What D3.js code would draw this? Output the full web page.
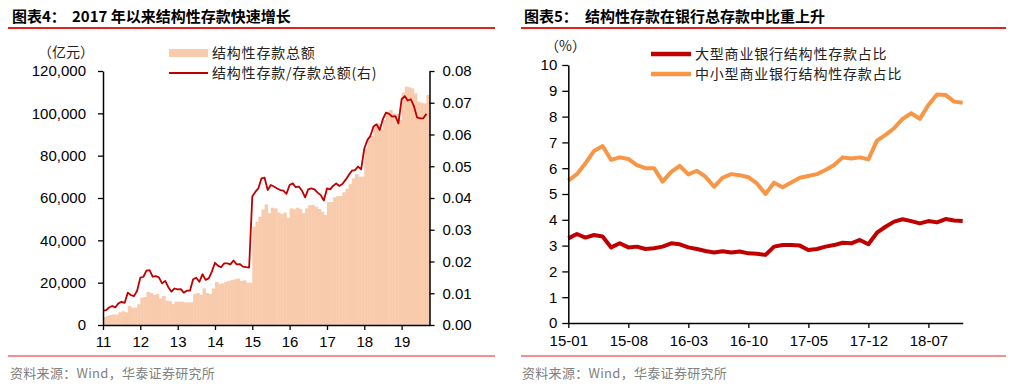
<!DOCTYPE html>
<html>
<head>
<meta charset="utf-8">
<script src="https://cdn.jsdelivr.net/npm/d3@7"></script>
<style>
body { margin: 0; background: #fff; }
svg text { font-family: "Liberation Sans", Arial, sans-serif; }
svg text.cjk { font-family: "Noto Sans CJK SC", sans-serif; }
</style>
</head>
<body>
<div id="rootDiv"></div>
<script>
// ---- left chart: 结构性存款 (monthly, 2011-01 .. 2019-09)
const depositStart = new Date(2011, 0, 1)
const depositAmount = [ // 亿元
    3800, 4300, 4700, 5000, 4900, 6000, 6500, 6000, 9000, 8200, 8200, 9800,
    12900, 13200, 15600, 15100, 14200, 14600, 12600, 13700, 11500, 11300, 9900, 11000,
    11000, 11000, 10700, 10700, 10700, 14600, 15100, 14300, 17300, 15100, 14600, 17300,
    20300, 19400, 19700, 20300, 20800, 21300, 21600, 21900, 20800, 21100, 20000, 20000,
    46500, 48800, 51200, 54600, 57000, 52800, 55400, 55100, 53100, 52400, 53100, 50700,
    55100, 54600, 55400, 54800, 52800, 55100, 56700, 56700, 55900, 54800, 53500, 52000,
    58100, 58100, 60300, 60900, 60900, 62700, 64400, 66600, 69300, 71300, 70100, 70100,
    83500, 87400, 89300, 93700, 95300, 92400, 96900, 100800, 101600, 100000, 99700, 96900,
    109800, 112600, 112300, 111800, 109400, 105500, 105000, 104700, 108700
]
const depositRatio = [ // 结构性存款/存款总额
    0.0045, 0.0047, 0.0055, 0.0060, 0.0055, 0.0068, 0.0073, 0.0070, 0.0102, 0.0094, 0.0091, 0.0108,
    0.0149, 0.0152, 0.0171, 0.0173, 0.0152, 0.0154, 0.0150, 0.0131, 0.0139, 0.0119, 0.0105, 0.0115,
    0.0112, 0.0113, 0.0102, 0.0108, 0.0108, 0.0144, 0.0149, 0.0136, 0.0160, 0.0142, 0.0147, 0.0168,
    0.0196, 0.0186, 0.0182, 0.0194, 0.0194, 0.0191, 0.0203, 0.0191, 0.0192, 0.0184, 0.0182, 0.0181,
    0.0405, 0.0420, 0.0430, 0.0462, 0.0464, 0.0425, 0.0441, 0.0436, 0.0430, 0.0425, 0.0423, 0.0413,
    0.0441, 0.0446, 0.0434, 0.0436, 0.0423, 0.0402, 0.0427, 0.0430, 0.0427, 0.0417, 0.0409, 0.0392,
    0.0430, 0.0427, 0.0438, 0.0446, 0.0438, 0.0444, 0.0457, 0.0472, 0.0486, 0.0488, 0.0499, 0.0490,
    0.0556, 0.0583, 0.0595, 0.0625, 0.0632, 0.0614, 0.0648, 0.0669, 0.0665, 0.0656, 0.0658, 0.0635,
    0.0711, 0.0721, 0.0707, 0.0711, 0.0690, 0.0654, 0.0651, 0.0651, 0.0665
]
const leftTicks = [0, 20000, 40000, 60000, 80000, 100000, 120000]
const rightTicks = [0, 0.01, 0.02, 0.03, 0.04, 0.05, 0.06, 0.07, 0.08]

// ---- right chart: 占比 (monthly, 2015-01 .. 2018-11)
const shareStart = new Date(2015, 0, 1)
const largeBankShare = [
    3.28, 3.45, 3.31, 3.41, 3.35, 2.93, 3.09, 2.93, 2.96, 2.87, 2.90, 2.96,
    3.09, 3.05, 2.93, 2.87, 2.79, 2.73, 2.78, 2.73, 2.77, 2.70, 2.68, 2.64,
    2.96, 3.02, 3.02, 3.00, 2.83, 2.87, 2.96, 3.02, 3.11, 3.09, 3.22, 3.05,
    3.50, 3.73, 3.93, 4.02, 3.95, 3.86, 3.95, 3.90, 4.03, 3.97, 3.95
]
const smallBankShare = [
    5.52, 5.77, 6.19, 6.67, 6.86, 6.32, 6.42, 6.36, 6.12, 6.00, 6.00, 5.48,
    5.86, 6.09, 5.76, 5.90, 5.67, 5.28, 5.63, 5.77, 5.73, 5.65, 5.41, 5.00,
    5.44, 5.26, 5.45, 5.63, 5.70, 5.77, 5.93, 6.12, 6.42, 6.38, 6.42, 6.34,
    7.07, 7.29, 7.55, 7.91, 8.13, 7.91, 8.45, 8.86, 8.84, 8.58, 8.54
]
const shareTickLabels = ['15-01', '15-08', '16-03', '16-10', '17-05', '17-12', '18-07']
const shareYTicks = [0, 1, 2, 3, 4, 5, 6, 7, 8, 9, 10]

const barColor = '#F8CBAD'
const darkRed = '#C00000'
const orange = '#F79646'
const ruleRed = '#E3231B'

const svg = d3.select('#rootDiv').append('svg')
    .attr('width', 1018)
    .attr('height', 389)

// headers / footers for both panels
const panels = [
    { x0: 8, x1: 495, tx: 12, tx2: 72, num: '图表4：', title: '2017 年以来结构性存款快速增长' },
    { x0: 521, x1: 1006, tx: 524, tx2: 585, num: '图表5：', title: '结构性存款在银行总存款中比重上升' }
]
for (const p of panels) {
    svg.append('text').attr('class', 'cjk').attr('x', p.tx).attr('y', 22)
        .attr('font-size', 15).attr('font-weight', 'bold').text(p.num)
    svg.append('text').attr('class', 'cjk').attr('x', p.tx2).attr('y', 22)
        .attr('font-size', 15).attr('font-weight', 'bold').text(p.title)
    svg.append('line').attr('x1', p.x0).attr('x2', p.x1).attr('y1', 28).attr('y2', 28)
        .attr('stroke', ruleRed).attr('stroke-width', 2)
    svg.append('line').attr('x1', p.x0).attr('x2', p.x1).attr('y1', 356).attr('y2', 356)
        .attr('stroke', ruleRed).attr('stroke-width', 1.2)
    svg.append('text').attr('class', 'cjk').attr('x', p.tx - 2).attr('y', 378)
        .attr('font-size', 13).attr('fill', '#808080').style('letter-spacing', '0.3px')
        .text('资料来源：Wind，华泰证券研究所')
}

function styleAxis(g, size) {
    g.select('.domain').attr('stroke', '#000').attr('stroke-width', 1.5)
    g.selectAll('.tick line').attr('stroke', '#000').attr('stroke-width', 1.3)
    g.selectAll('.tick text').attr('fill', '#000').attr('font-size', size)
        .style('font-family', '"Liberation Sans", Arial, sans-serif')
}

// ================= left chart =================
const months = depositAmount.map((v, i) => d3.timeMonth.offset(depositStart, i))
const endMonth = d3.timeMonth.offset(depositStart, depositAmount.length)

const x = d3.scaleTime().domain([depositStart, endMonth]).range([103, 429.5])
const yL = d3.scaleLinear().domain([0, 120000]).range([325, 71])
const yR = d3.scaleLinear().domain([0, 0.08]).range([325, 71])

const left = svg.append('g')

left.selectAll('rect.bar')
    .data(depositAmount)
    .enter()
    .append('rect')
    .attr('class', 'bar')
    .attr('x', (d, i) => x(months[i]))
    .attr('width', (d, i) => x(d3.timeMonth.offset(months[i], 1)) - x(months[i]) + 0.4)
    .attr('y', d => yL(d))
    .attr('height', d => yL(0) - yL(d))
    .attr('fill', barColor)

const ratioLine = d3.line()
    .x((d, i) => x(months[i]))
    .y(d => yR(d))

left.append('path')
    .datum(depositRatio)
    .attr('d', ratioLine)
    .attr('fill', 'none')
    .attr('stroke', darkRed)
    .attr('stroke-width', 1.8)
    .attr('stroke-linejoin', 'round')

const xAxisL = left.append('g')
    .attr('transform', 'translate(0,325)')
    .call(d3.axisBottom(x)
        .tickValues(d3.timeYear.range(depositStart, endMonth))
        .tickFormat(d3.timeFormat('%y'))
        .tickSize(5).tickSizeOuter(0).tickPadding(6))
styleAxis(xAxisL, 15)

const yAxisL = left.append('g')
    .attr('transform', 'translate(103,0)')
    .call(d3.axisLeft(yL).tickValues(leftTicks).tickFormat(d3.format(','))
        .tickSize(5).tickSizeOuter(0).tickPadding(12))
styleAxis(yAxisL, 15)

const yAxisR = left.append('g')
    .attr('transform', 'translate(429.5,0)')
    .call(d3.axisRight(yR).tickValues(rightTicks).tickFormat(d3.format('.2f'))
        .tickSize(5).tickSizeOuter(0).tickPadding(8))
styleAxis(yAxisR, 15)

left.append('text').attr('class', 'cjk').attr('x', 38).attr('y', 57)
    .attr('font-size', 14).attr('fill', '#222').text('（亿元）')

// legend
left.append('rect').attr('x', 169).attr('y', 49).attr('width', 39).attr('height', 8).attr('fill', barColor)
left.append('text').attr('class', 'cjk').attr('x', 212).attr('y', 58)
    .attr('font-size', 14).attr('fill', '#222').style('letter-spacing', '0.8px').text('结构性存款总额')
left.append('line').attr('x1', 169).attr('x2', 208).attr('y1', 73).attr('y2', 73)
    .attr('stroke', darkRed).attr('stroke-width', 2)
left.append('text').attr('class', 'cjk').attr('x', 212).attr('y', 78)
    .attr('font-size', 14).attr('fill', '#222').style('letter-spacing', '0.8px').text('结构性存款/存款总额(右)')

// ================= right chart =================
const fmtMonth = d3.timeFormat('%y-%m')
const shareMonths = largeBankShare.map((v, i) => fmtMonth(d3.timeMonth.offset(shareStart, i)))

const xs = d3.scalePoint().domain(shareMonths).range([568.3, 962.7])
const ys = d3.scaleLinear().domain([0, 10]).range([323, 65])

const right = svg.append('g')

const shareLine = d3.line()
    .x((d, i) => xs(shareMonths[i]))
    .y(d => ys(d))

const series = [
    { values: smallBankShare, color: orange },
    { values: largeBankShare, color: darkRed }
]
right.selectAll('path.share')
    .data(series)
    .enter()
    .append('path')
    .attr('class', 'share')
    .attr('d', d => shareLine(d.values))
    .attr('fill', 'none')
    .attr('stroke', d => d.color)
    .attr('stroke-width', 4)
    .attr('stroke-linejoin', 'round')

const xAxisS = right.append('g')
    .attr('transform', 'translate(0,323)')
    .call(d3.axisBottom(xs).tickValues(shareTickLabels)
        .tickSize(5).tickSizeOuter(0).tickPadding(7))
styleAxis(xAxisS, 15)

const yAxisS = right.append('g')
    .attr('transform', 'translate(568.3,0)')
    .call(d3.axisLeft(ys).tickValues(shareYTicks)
        .tickSize(6).tickSizeOuter(0).tickPadding(5))
styleAxis(yAxisS, 15)

right.append('text').attr('class', 'cjk').attr('x', 545).attr('y', 51)
    .attr('font-size', 14).attr('fill', '#222').text('（%）')

const shareLegend = [
    { label: '大型商业银行结构性存款占比', color: darkRed, y: 54 },
    { label: '中小型商业银行结构性存款占比', color: orange, y: 74 }
]
const lg = right.selectAll('g.legend')
    .data(shareLegend)
    .enter()
    .append('g')
    .attr('class', 'legend')
    .attr('transform', d => `translate(0,${d.y})`)
lg.append('line').attr('x1', 651).attr('x2', 691).attr('y1', 0).attr('y2', 0)
    .attr('stroke', d => d.color).attr('stroke-width', 4.5)
lg.append('text').attr('class', 'cjk').attr('x', 695).attr('y', 5)
    .attr('font-size', 14).attr('fill', '#222').style('letter-spacing', '0.8px')
    .text(d => d.label)
</script>
</body>
</html>
